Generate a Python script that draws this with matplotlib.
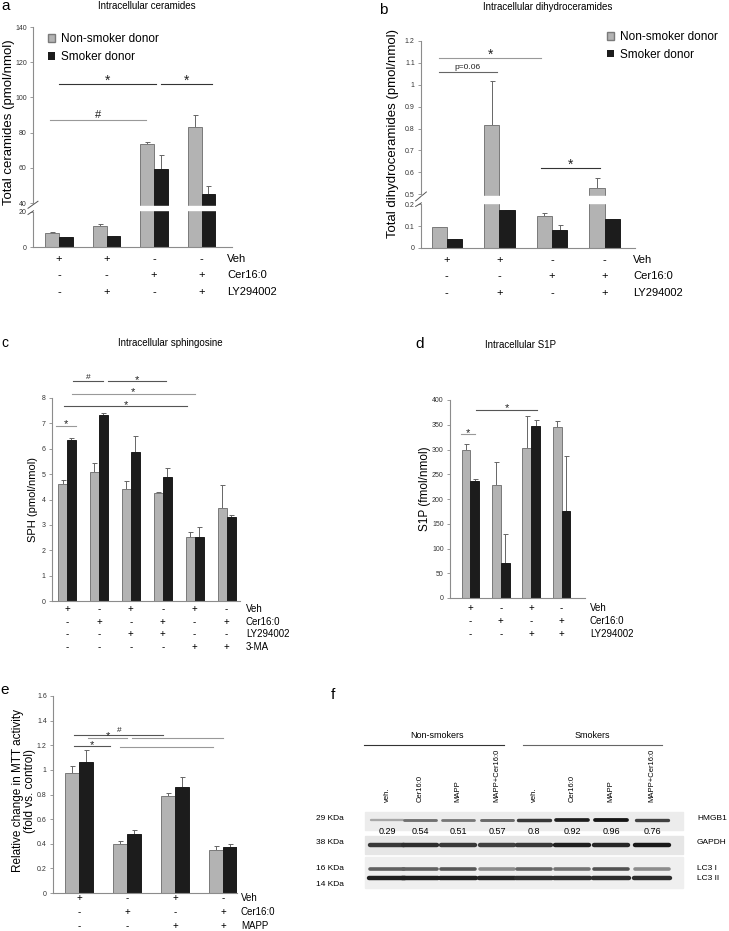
import numpy as np
import matplotlib
matplotlib.use('Agg')
from matplotlib import pyplot as plt
from matplotlib.patches import Patch, Rectangle
from matplotlib.transforms import blended_transform_factory

plt.rcParams['font.family'] = ['Liberation Sans', 'DejaVu Sans']

W, H = 729, 931
GRAY = '#b3b3b3'
GRAY_EDGE = '#7a7a7a'
BLACK = '#1c1c1c'

# a - intracellular ceramides (pmol/nmol)
cer_non = [8.1, 12.1, 73.3, 83.0]
cer_non_sd = [0.3, 1.2, 1.3, 7.0]
cer_smk = [5.6, 6.3, 59.4, 45.3]
cer_smk_sd = [0.3, 0.0, 7.6, 4.3]

# b - intracellular dihydroceramides (pmol/nmol)
dhc_non = [0.095, 0.815, 0.145, 0.53]
dhc_non_sd = [0.0, 0.20, 0.015, 0.043]
dhc_smk = [0.043, 0.174, 0.08, 0.131]
dhc_smk_sd = [0.0, 0.0, 0.026, 0.0]

# c - intracellular sphingosine (pmol/nmol)
sph_non = [4.60, 5.08, 4.41, 4.25, 2.51, 3.66]
sph_non_sd = [0.16, 0.35, 0.30, 0.03, 0.20, 0.91]
sph_smk = [6.33, 7.34, 5.89, 4.89, 2.51, 3.30]
sph_smk_sd = [0.09, 0.07, 0.61, 0.35, 0.42, 0.07]

# d - intracellular S1P (fmol/nmol)
s1p_non = [299, 228, 304, 346]
s1p_non_sd = [12, 47, 64, 11]
s1p_smk = [237, 70, 347, 175]
s1p_smk_sd = [3, 60, 13, 112]

# e - MTT activity (fold vs control)
mtt_non = [0.971, 0.402, 0.785, 0.351]
mtt_non_sd = [0.057, 0.020, 0.025, 0.030]
mtt_smk = [1.063, 0.480, 0.863, 0.372]
mtt_smk_sd = [0.097, 0.033, 0.081, 0.028]

treat_ab = [('Veh', '++--'), ('Cer16:0', '--++'), ('LY294002', '-+-+')]
treat_c = [('Veh', '+-+-+-'), ('Cer16:0', '-+-+-+'), ('LY294002', '--++--'), ('3-MA', '----++')]
treat_d = [('Veh', '+-+-'), ('Cer16:0', '-+-+'), ('LY294002', '--++')]
treat_e = [('Veh', '+-+-'), ('Cer16:0', '-+-+'), ('MAPP', '--++')]

# significance bars: x0, x1, y, label, color
sig_a = [(0.0, 2.03, 107.5, '*', '#333333'), (2.15, 3.22, 107.5, '*', '#333333'),
         (-0.2, 1.83, 87, '#', '#999999')]
sig_b = [(-0.15, 1.80, 1.123, '*', '#999999'), (-0.15, 0.95, 1.058, 'p=0.06', '#666666'),
         (1.80, 2.91, 0.62, '*', '#333333')]
sig_c = [(-0.34, 0.29, 6.9, '*', '#999999'), (-0.10, 3.77, 7.67, '*', '#555555'),
         (0.15, 4.00, 8.16, '*', '#999999'), (0.19, 1.12, 8.66, '#', '#555555'),
         (1.28, 3.09, 8.66, '*', '#555555')]
sig_d = [(-0.31, 0.15, 331, '*', '#999999'), (0.18, 2.2, 380, '*', '#555555')]
sig_e = [(-0.10, 1.76, 1.282, '#', '#555555'), (0.19, 1.00, 1.26, '*', '#999999'),
         (-0.10, 0.65, 1.193, '*', '#555555'), (1.10, 3.00, 1.26, '', '#999999'),
         (0.86, 2.80, 1.187, '', '#999999')]

# f - western blot
lane_names = ['veh.', 'Cer16:0', 'MAPP', 'MAPP+Cer16:0'] * 2
lane_x = [387, 420, 458, 497, 534, 572, 611, 652]
hmgb1 = [0.29, 0.54, 0.51, 0.57, 0.8, 0.92, 0.96, 0.76]
gapdh = [0.78, 0.82, 0.78, 0.75, 0.78, 0.88, 0.85, 0.9]
lc3_1 = [0.62, 0.62, 0.66, 0.45, 0.6, 0.55, 0.68, 0.45]
lc3_2 = [0.88, 0.88, 0.88, 0.86, 0.82, 0.82, 0.82, 0.82]


def brk(lo, hi, gap):
	xp = [-1e4, lo, hi, 1e4]
	fp = [-1e4, lo, lo + gap, 1e4 - (hi - lo - gap)]
	return (lambda v: np.interp(v, xp, fp)), (lambda v: np.interp(v, fp, xp))


def px_axes(fig, l, t, r, b):
	return fig.add_axes([l / W, 1 - b / H, (r - l) / W, (b - t) / H])


def bars(ax, non, non_sd, smk, smk_sd, w=0.29):
	x = np.arange(len(non))
	z = np.zeros(len(non))
	ax.bar(x - w / 2, non, w, color=GRAY, edgecolor=GRAY_EDGE, linewidth=0.7, zorder=2)
	ax.bar(x + w / 2, smk, w, color=BLACK, edgecolor=BLACK, linewidth=0.7, zorder=2)
	ax.errorbar(x - w / 2, non, yerr=[z, non_sd], fmt='none', ecolor='#666666',
		elinewidth=0.7, capsize=1.8, capthick=0.7, zorder=1)
	ax.errorbar(x + w / 2, smk, yerr=[z, smk_sd], fmt='none', ecolor='#666666',
		elinewidth=0.7, capsize=1.8, capthick=0.7, zorder=1)
	for s in ['top', 'right']:
		ax.spines[s].set_visible(False)
	for s in ['left', 'bottom']:
		ax.spines[s].set_color('#8c8c8c')
		ax.spines[s].set_linewidth(0.8)
	ax.set_xticks([])
	ax.tick_params(axis='y', labelsize=5, length=2.5, width=0.6, color='#8c8c8c',
		labelcolor='#333333', pad=2)


def set_ticks(ax, ticks):
	ax.set_yticks(ticks)
	ax.set_yticklabels([f'{t:g}' for t in ticks])


def sigs(ax, lines, fs_star, fs_other):
	for x0, x1, y, lab, c in lines:
		ax.plot([x0, x1], [y, y], color=c, lw=0.8, clip_on=False, zorder=3)
		if lab == '*':
			ax.annotate(lab, ((x0 + x1) / 2, y), xytext=(0, -2.5), textcoords='offset points',
				ha='center', va='bottom', fontsize=fs_star, color='#222222', annotation_clip=False)
		elif lab:
			ax.annotate(lab, ((x0 + x1) / 2, y), xytext=(0, 0.5), textcoords='offset points',
				ha='center', va='bottom', fontsize=fs_other, color='#222222', annotation_clip=False)


def treatments(ax, ov, rows, ys, label_x, fs):
	tr = blended_transform_factory(ax.transData, ov.transData)
	for (name, signs), y in zip(rows, ys):
		for i, s in enumerate(signs):
			ax.text(i, y, s, transform=tr, ha='center', va='center', fontsize=fs, clip_on=False)
		ov.text(label_x, y, name, ha='left', va='center', fontsize=fs)


def split_spine(ax, segs):
	ax.spines['left'].set_visible(False)
	tr = blended_transform_factory(ax.transAxes, ax.transData)
	for y0, y1 in segs:
		ax.plot([0, 0], [y0, y1], transform=tr, color='#8c8c8c', lw=0.8, clip_on=False, zorder=4)


def break_marks(ax, marks):
	tr = blended_transform_factory(ax.transAxes, ax.transData)
	for y0, y1 in marks:
		ax.plot([-0.025, 0.025], [y0, y1], transform=tr, color='#555555', lw=0.7, clip_on=False)


def main():
	fig = plt.figure(figsize=(W / 100, H / 100), dpi=100)
	ov = fig.add_axes([0, 0, 1, 1], zorder=10)
	ov.set_xlim(0, W)
	ov.set_ylim(H, 0)
	ov.axis('off')

	# ---- a
	ax = px_axes(fig, 33, 27, 232, 247)
	ax.set_yscale('function', functions=brk(20, 40, 5))
	bars(ax, cer_non, cer_non_sd, cer_smk, cer_smk_sd)
	ax.set_xlim(-0.55, 3.64)
	ax.set_ylim(0, 140)
	set_ticks(ax, [0, 20, 40, 60, 80, 100, 120, 140])
	ax.axhspan(24.6, 32.4, xmin=0.005, color='white', zorder=5)
	split_spine(ax, [(0, 20), (40, 140)])
	break_marks(ax, [(18.5, 29), (28, 41)])
	sigs(ax, sig_a, 10, 8)
	ax.legend(handles=[Patch(facecolor=GRAY, edgecolor=GRAY_EDGE, label='Non-smoker donor'),
		Patch(facecolor=BLACK, label='Smoker donor')], loc='upper left',
		bbox_to_anchor=(0.02, 1.02), frameon=False, fontsize=8.5, handlelength=0.6,
		handleheight=0.6, handletextpad=0.5, labelspacing=0.5)
	treatments(ax, ov, treat_ab, [259, 275, 292], 227, 8)
	ov.text(9, 122, 'Total ceramides (pmol/nmol)', rotation=90, ha='center', va='center', fontsize=9.5)
	ov.text(147, 6, 'Intracellular ceramides', ha='center', va='center', fontsize=7)
	ov.text(6, 6, 'a', ha='center', va='center', fontsize=11)

	# ---- b
	ax = px_axes(fig, 421, 41, 635, 248)
	ax.set_yscale('function', functions=brk(0.2, 0.5, 0.046))
	bars(ax, dhc_non, dhc_non_sd, dhc_smk, dhc_smk_sd)
	ax.set_xlim(-0.49, 3.58)
	ax.set_ylim(0, 1.2)
	set_ticks(ax, [0, 0.1, 0.2, 0.5, 0.6, 0.7, 0.8, 0.9, 1.0, 1.1, 1.2])
	ax.axhspan(0.25, 0.45, xmin=0.005, color='white', zorder=5)
	split_spine(ax, [(0, 0.2), (0.5, 1.2)])
	break_marks(ax, [(0.19, 0.33), (0.3, 0.51)])
	sigs(ax, sig_b, 10, 6)
	ax.legend(handles=[Patch(facecolor=GRAY, edgecolor=GRAY_EDGE, label='Non-smoker donor'),
		Patch(facecolor=BLACK, label='Smoker donor')], loc='upper left',
		bbox_to_anchor=(0.82, 1.1), frameon=False, fontsize=8.5, handlelength=0.6,
		handleheight=0.6, handletextpad=0.5, labelspacing=0.5)
	treatments(ax, ov, treat_ab, [260, 276, 293], 633, 8)
	ov.text(393, 133, 'Total dihydroceramides (pmol/nmol)', rotation=90, ha='center', va='center', fontsize=9.5)
	ov.text(548, 7, 'Intracellular dihydroceramides', ha='center', va='center', fontsize=7)
	ov.text(383, 10, 'b', ha='center', va='center', fontsize=11)

	# ---- c
	ax = px_axes(fig, 52, 398, 240, 601)
	bars(ax, sph_non, sph_non_sd, sph_smk, sph_smk_sd, w=0.28)
	ax.set_xlim(-0.47, 5.42)
	ax.set_ylim(0, 8)
	set_ticks(ax, list(range(9)))
	sigs(ax, sig_c, 8, 6)
	treatments(ax, ov, treat_c, [609, 622, 634, 647], 246, 7)
	ov.text(33, 500, 'SPH (pmol/nmol)', rotation=90, ha='center', va='center', fontsize=8)
	ov.text(170, 343, 'Intracellular sphingosine', ha='center', va='center', fontsize=7)
	ov.text(5, 343, 'c', ha='center', va='center', fontsize=10)

	# ---- d
	ax = px_axes(fig, 450, 400, 585, 598)
	bars(ax, s1p_non, s1p_non_sd, s1p_smk, s1p_smk_sd)
	ax.set_xlim(-0.67, 3.77)
	ax.set_ylim(0, 400)
	set_ticks(ax, list(range(0, 401, 50)))
	sigs(ax, sig_d, 8, 6)
	treatments(ax, ov, treat_d, [608, 621, 634], 590, 7)
	ov.text(425, 489, 'S1P (fmol/nmol)', rotation=90, ha='center', va='center', fontsize=8.5)
	ov.text(521, 345, 'Intracellular S1P', ha='center', va='center', fontsize=7)
	ov.text(420, 344, 'd', ha='center', va='center', fontsize=11)

	# ---- e
	ax = px_axes(fig, 53, 696, 237, 893)
	bars(ax, mtt_non, mtt_non_sd, mtt_smk, mtt_smk_sd, w=0.285)
	ax.set_xlim(-0.54, 3.29)
	ax.set_ylim(0, 1.6)
	set_ticks(ax, [0, 0.2, 0.4, 0.6, 0.8, 1.0, 1.2, 1.4, 1.6])
	sigs(ax, sig_e, 8, 6)
	treatments(ax, ov, treat_e, [898, 912, 926], 241, 7)
	ov.text(24, 791, 'Relative change in MTT activity\n(fold vs. control)', rotation=90,
		ha='center', va='center', fontsize=8.5, linespacing=1.1)
	ov.text(5, 690, 'e', ha='center', va='center', fontsize=11)

	# ---- f
	ov.text(333, 695, 'f', ha='center', va='center', fontsize=11)
	ov.text(437, 736, 'Non-smokers', ha='center', va='center', fontsize=6.5)
	ov.text(592, 736, 'Smokers', ha='center', va='center', fontsize=6.5)
	ov.plot([364, 504], [745, 745], color='#333333', lw=0.8)
	ov.plot([523, 662], [745, 745], color='#666666', lw=0.8)
	for x, name in zip(lane_x, lane_names):
		ov.text(x, 802, name, rotation=90, ha='center', va='bottom', fontsize=5.5)
	ov.add_patch(Rectangle((365, 812), 318, 18, color='#ececec', zorder=0))
	ov.add_patch(Rectangle((365, 836), 318, 18, color='#e6e6e6', zorder=0))
	ov.add_patch(Rectangle((365, 857), 318, 31, color='#efefef', zorder=0))
	for i, x in enumerate(lane_x):
		ov.plot([x - 16, x + 16], [820, 820], color=str(0.9 - 0.85 * hmgb1[i]),
			lw=1.2 + 1.6 * hmgb1[i], solid_capstyle='round')
		ov.text(x, 832, f'{hmgb1[i]:g}', ha='center', va='center', fontsize=6.5)
		ov.plot([x - 17, x + 17], [845, 845], color=str(1 - gapdh[i]), lw=3.2, solid_capstyle='round')
		ov.plot([x - 17, x + 17], [869, 869], color=str(1 - lc3_1[i]), lw=2.6, solid_capstyle='round')
		ov.plot([x - 18, x + 18], [878, 878], color=str(1 - lc3_2[i]), lw=3.2, solid_capstyle='round')
	for y, lab in zip([819, 842, 869, 879], ['HMGB1', 'GAPDH', 'LC3 I', 'LC3 II']):
		ov.text(697, y, lab, ha='left', va='center', fontsize=6)
	for y, lab in zip([818, 842, 869, 884], ['29 KDa', '38 KDa', '16 KDa', '14 KDa']):
		ov.text(316, y, lab, ha='left', va='center', fontsize=6)

	fig.savefig('out.png', dpi=100)


if __name__ == '__main__':
	main()
